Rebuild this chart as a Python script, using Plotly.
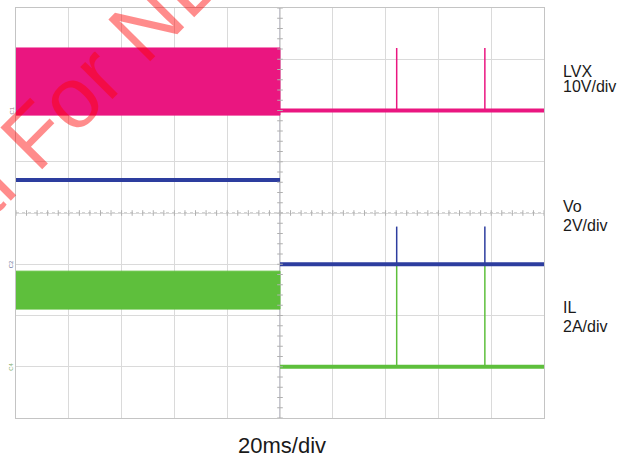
import plotly.graph_objects as go

# ---------------- data (read from the scope capture) ----------------
time_range_ms = [-100, 100]          # 10 div x 20 ms/div
t_switch_ms = 0.0                    # instant where switching stops
spike_times_ms = [44.2, 77.6]        # short restart pulses

# channel scales (units/div) and ground offsets (div)
lvx_scale, lvx_gnd = 10.0, 2.0
vo_scale, vo_gnd = 2.0, -1.0
il_scale, il_gnd = 2.0, -3.0

# LVX (V)
lvx_band_low, lvx_band_high = -0.9, 12.2
lvx_off = 0.0
lvx_spike = 12.2

# Vo (V)
vo_on = 3.29
vo_off = 0.0
vo_spike = 1.47

# IL (A)
il_band_low, il_band_high = 2.25, 3.73
il_off = 0.0
il_spike = 4.0
il_trigger = 1.36

channel_names = ["LVX", "Vo", "IL"]
channel_scales = ["10V/div", "2V/div", "2A/div"]
time_label = "20ms/div"
watermark = "Confidential For NDA"

# ---------------- styling ----------------
W, H = 636, 457
L, R, T, B = 16, 544, 8, 418
C_LVX = "#EA1680"
C_VO = "#2D3D9F"
C_IL = "#5EBF3C"


def px(x):
    return (x - L) / (R - L)


def py(y):
    return (B - y) / (B - T)


def div(v, scale, gnd):
    return v / scale + gnd


t0, t1 = time_range_ms

fig = go.Figure()


def band(lo, hi, color):
    fig.add_trace(go.Scatter(
        x=[t0, t_switch_ms, t_switch_ms, t0, t0],
        y=[lo, lo, hi, hi, lo], mode="lines", fill="toself",
        fillcolor=color, line=dict(color=color, width=1), hoverinfo="skip"))


def level(x0, x1, y, color, width):
    fig.add_trace(go.Scatter(x=[x0, x1], y=[y, y], mode="lines",
                             line=dict(color=color, width=width), hoverinfo="skip"))


def spikes(base, top, color, width):
    xs, ys = [], []
    for t in spike_times_ms:
        xs += [t, t, None]
        ys += [base, top, None]
    fig.add_trace(go.Scatter(x=xs, y=ys, mode="lines",
                             line=dict(color=color, width=width), hoverinfo="skip"))


# IL
band(div(il_band_low, il_scale, il_gnd), div(il_band_high, il_scale, il_gnd), C_IL)
spikes(div(il_off, il_scale, il_gnd), div(il_spike, il_scale, il_gnd), C_IL, 1.5)
level(t_switch_ms, t1, div(il_off, il_scale, il_gnd), C_IL, 4)

# LVX
band(div(lvx_band_low, lvx_scale, lvx_gnd), div(lvx_band_high, lvx_scale, lvx_gnd), C_LVX)
spikes(div(lvx_off, lvx_scale, lvx_gnd), div(lvx_spike, lvx_scale, lvx_gnd), C_LVX, 1.5)
level(t_switch_ms, t1, div(lvx_off, lvx_scale, lvx_gnd), C_LVX, 4)

# Vo
level(t0, t_switch_ms, div(vo_on, vo_scale, vo_gnd), C_VO, 4)
spikes(div(vo_off, vo_scale, vo_gnd), div(vo_spike, vo_scale, vo_gnd), C_VO, 1.5)
level(t_switch_ms, t1, div(vo_off, vo_scale, vo_gnd), C_VO, 4)

# centre-line minor ticks (graticule decoration)
fig.add_trace(go.Scatter(
    x=[t0 + 4 * i for i in range(51)], y=[0] * 51, mode="markers",
    marker=dict(symbol="line-ns", size=4, line=dict(color="#b0b0b0", width=1)),
    hoverinfo="skip"))
fig.add_trace(go.Scatter(
    x=[0] * 41, y=[-4 + 0.2 * i for i in range(41)], mode="markers",
    marker=dict(symbol="line-ew", size=4, line=dict(color="#b0b0b0", width=1)),
    hoverinfo="skip"))

# trigger level marker
fig.add_trace(go.Scatter(
    x=[t1 + 1.2], y=[div(il_trigger, il_scale, il_gnd)], mode="markers",
    marker=dict(symbol="triangle-left", size=5, color=C_IL),
    cliponaxis=False, hoverinfo="skip"))

fig.add_shape(type="line", x0=0, x1=0, y0=-4, y1=4, xref="x", yref="y",
              line=dict(color="#8c8c9c", width=1), layer="below")
fig.add_shape(type="line", x0=t0, x1=t1, y0=0, y1=0, xref="x", yref="y",
              line=dict(color="#a8a8a8", width=1, dash="dot"), layer="below")

font = "Liberation Sans, Arial, sans-serif"
ann = []
label_pos = [(71, 87), (206, 225), (307, 326)]
for name, sc, (y1, y2) in zip(channel_names, channel_scales, label_pos):
    ann.append(dict(text=name, x=px(561), y=py(y1), xref="paper", yref="paper",
                    xanchor="left", yanchor="middle", showarrow=False,
                    font=dict(family=font, size=16, color="#1a1a1a")))
    ann.append(dict(text=sc, x=px(561), y=py(y2), xref="paper", yref="paper",
                    xanchor="left", yanchor="middle", showarrow=False,
                    font=dict(family=font, size=16, color="#1a1a1a")))
ann.append(dict(text=time_label, x=px(282), y=py(445), xref="paper", yref="paper",
                xanchor="center", yanchor="middle", showarrow=False,
                font=dict(family=font, size=22, color="#1a1a1a")))

# ground markers
for lab, gnd, col in [("C1", lvx_gnd, "#9a7a8a"), ("C2", vo_gnd, "#6a6f9a"), ("C4", il_gnd, "#7fae70")]:
    ann.append(dict(text=lab, x=px(11), y=py(213 - gnd * 51.25), xref="paper", yref="paper",
                    xanchor="center", yanchor="middle", showarrow=False, textangle=-90,
                    font=dict(family=font, size=6, color=col)))

# watermark
ann.append(dict(text=watermark, x=px(-35), y=py(204), xref="paper", yref="paper",
                xanchor="center", yanchor="middle", showarrow=False, textangle=-45,
                font=dict(family=font, size=86, color="rgba(255,0,0,0.45)")))

fig.update_layout(
    width=W, height=H, margin=dict(l=L, r=W - R, t=T, b=H - B),
    paper_bgcolor="white", plot_bgcolor="white", showlegend=False,
    annotations=ann,
    xaxis=dict(range=time_range_ms, dtick=20, tick0=0, showgrid=True, gridcolor="#dadada",
               gridwidth=1, zeroline=False, showticklabels=False, ticks="",
               showline=True, linecolor="#c4c4c4", mirror=True, fixedrange=True),
    yaxis=dict(range=[-4, 4], dtick=1, tick0=0, showgrid=True, gridcolor="#dadada",
               gridwidth=1, zeroline=False, showticklabels=False, ticks="",
               showline=True, linecolor="#c4c4c4", mirror=True, fixedrange=True),
)

fig.write_html("out.html", config={"displayModeBar": False},
               post_script="document.body.style.margin='0';document.body.style.overflow='hidden';")
